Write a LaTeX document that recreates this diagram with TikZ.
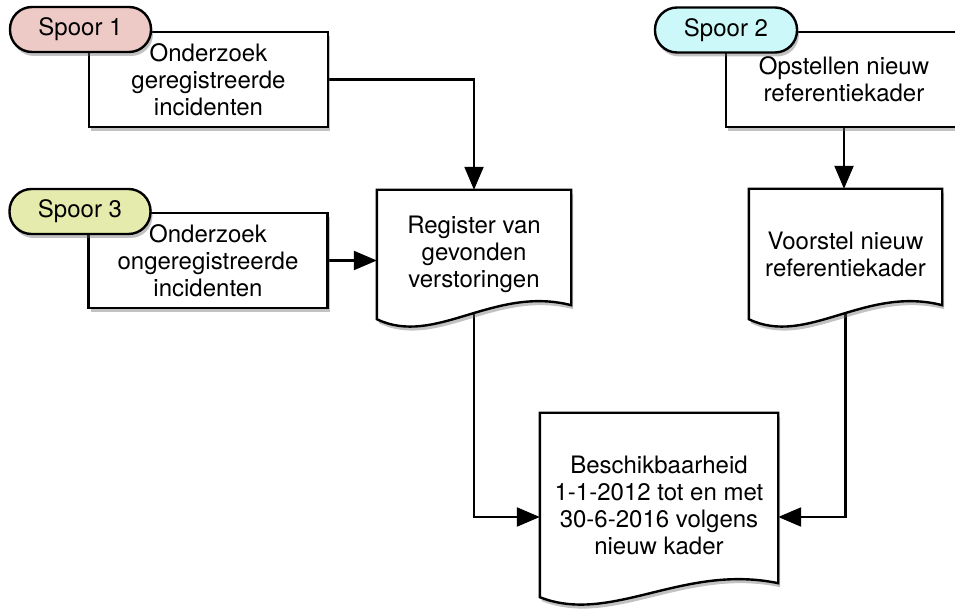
\documentclass[tikz,border=0pt]{standalone}
\usepackage{fontspec}
\setmainfont{TeX Gyre Heros}
\usepackage{tikz}
\usetikzlibrary{
    arrows.meta,
    calc,
    shadows,
    backgrounds
}
\definecolor{spoorrood}{HTML}{EECAC6}
\definecolor{spoorblauw}{HTML}{CCF8FA}
\definecolor{spoorgroen}{HTML}{E5EBAC}
\tikzset{schaduw/.style={drop shadow={shadow xshift=2pt, shadow yshift=-4pt, opacity=0.4, fill=black!60}}}
\tikzset{stap/.style={draw=black, line width=2.4pt, fill=white, schaduw, align=center, inner sep=2pt, minimum width=239pt, minimum height=95pt}}
\tikzset{spoor/.style={draw=black, line width=2.4pt, rounded corners=22pt, schaduw, inner sep=2pt, minimum width=141pt, minimum height=45pt}}
\tikzset{doc/.style={align=center, inner sep=0pt}}
\tikzset{docrand/.style={draw=black, line width=2.4pt, fill=white, schaduw}}
\tikzset{pijl/.style={line width=2.2pt, -{Triangle[length=23pt, width=19pt]}}}
\newcommand{\docrand}[1]{%
    \draw[docrand] (#1.south west) -- (#1.north west) -- (#1.north east) -- ([yshift=14pt]#1.south east)
        .. controls ($(#1.south east)!0.4!(#1.south west)+(0,34)$) and ($(#1.south west)!0.3!(#1.south east)+(0,-28)$) .. (#1.south west) -- cycle;}

\begin{document}
\begin{tikzpicture}[x=1pt, y=1pt, font=\fontsize{24}{27}\selectfont]
                        \useasboundingbox (0,0) rectangle (955,608);
                        \clip (0,0) rectangle (955,608);

                        \node[stap] (onderzoek1) at (208.5, 528.5) {Onderzoek\\geregistreerde\\incidenten};
                        \node[stap] (onderzoek3) at (208, 347.5) {Onderzoek\\ongeregistreerde\\incidenten};
                        \node[stap, minimum width=236pt] (opstellen) at (844, 528.5) {Opstellen nieuw\\referentiekader};

                        \node[spoor, fill=spoorrood] (spoor1) at (80.5, 578.5) {Spoor 1};
                        \node[spoor, fill=spoorgroen] (spoor3) at (80, 396.5) {Spoor 3};
                        \node[spoor, fill=spoorblauw, minimum width=142pt] (spoor2) at (726, 578) {Spoor 2};

                        \node[doc, minimum width=194pt, minimum height=129pt] (register) at (474, 353.5) {Register van\\gevonden\\verstoringen};
                        \node[doc, minimum width=193pt, minimum height=130pt] (voorstel) at (845.5, 354) {Voorstel nieuw\\referentiekader};
                        \node[doc, minimum width=238pt, minimum height=184pt] (beschik) at (659, 103) {Beschikbaarheid\\1-1-2012 tot en met\\30-6-2016 volgens\\nieuw kader};

                        \begin{scope}[on background layer]
                        \draw[pijl] (onderzoek1.east) -| (register.north);
                        \draw[pijl] (onderzoek3.east) -- (onderzoek3.east -| register.west);
                        \draw[pijl] (opstellen.south) -- (opstellen.south |- voorstel.north);
                        \draw[pijl] (register.center) |- ([yshift=-12pt]beschik.west);
                        \draw[pijl] (voorstel.center) |- ([yshift=-12pt]beschik.east);

                        \docrand{register}
                        \docrand{voorstel}
                        \docrand{beschik}
                        \end{scope}
                    \end{tikzpicture}
\end{document}
